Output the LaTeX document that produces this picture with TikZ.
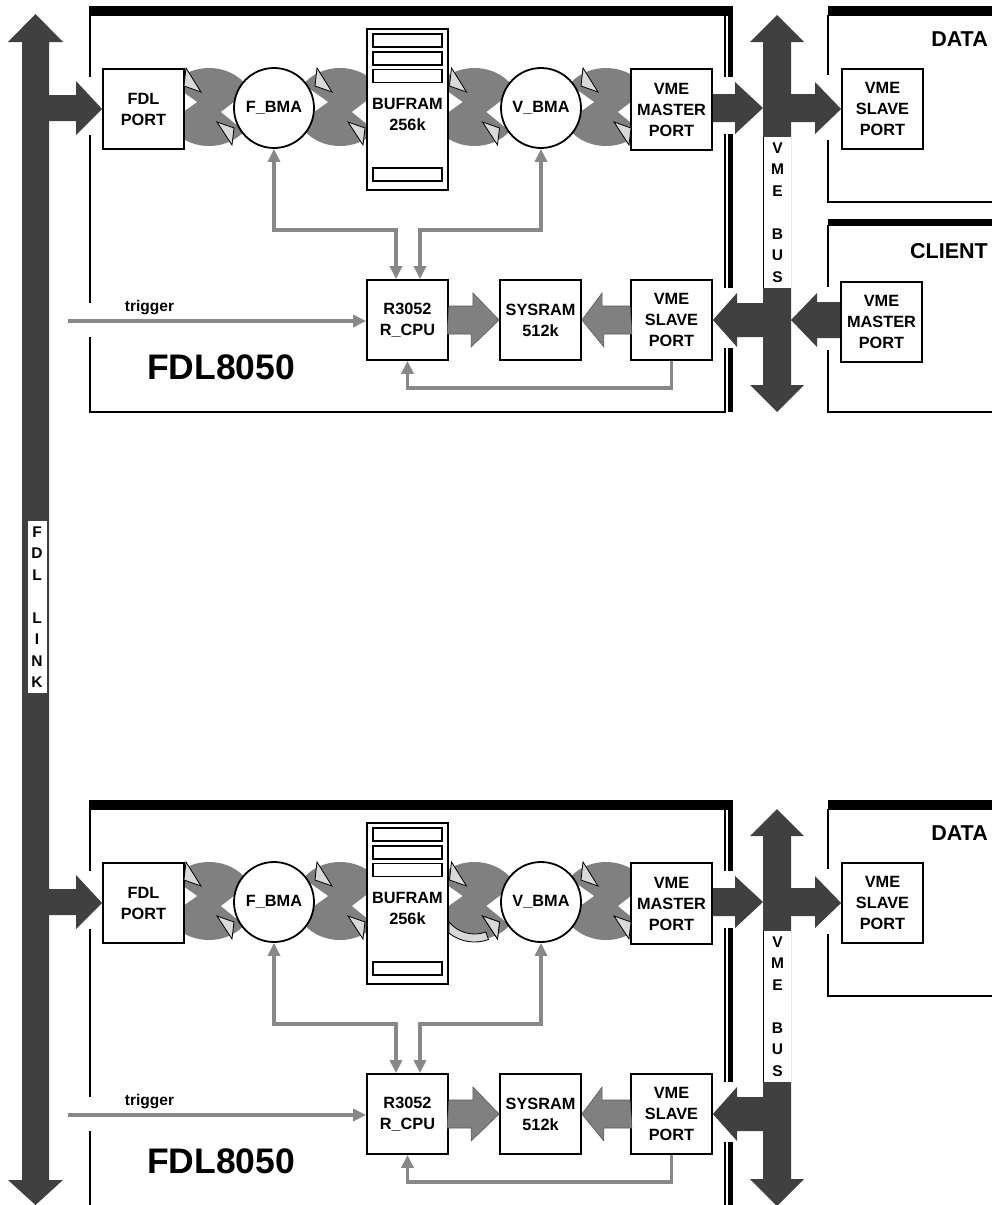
\documentclass[tikz,border=0pt]{standalone}
\usepackage{fontspec}
\setmainfont{Liberation Sans}
\usetikzlibrary{arrows.meta,calc}
\definecolor{dark}{HTML}{404040}
\definecolor{blobg}{HTML}{808080}
\definecolor{fatg}{HTML}{808080}
\definecolor{conng}{HTML}{888888}
\definecolor{trifill}{HTML}{D9D9D9}
\newcommand\mylbl{\fontsize{16.3}{21}\selectfont\bfseries}
\tikzset{
  frame/.style={line width=2pt},
  box/.style={draw, line width=1.8pt, fill=white, minimum width=81pt, minimum height=80pt, inner sep=0pt, align=center, font=\mylbl},
  circ/.style={draw, circle, line width=1.8pt, fill=white, minimum size=80pt, inner sep=0pt, font=\mylbl},
  conn/.style={draw=conng, line width=3.6pt, >={Triangle[length=13pt,width=12pt]}},
  fat/.style={fill=fatg, draw=black!65, line width=0.6pt},
  tri/.style={fill=trifill, draw=black, line width=0.8pt, line join=miter},
  band/.style={fill=trifill, draw=black, line width=0.8pt},
  vtext/.style={font=\fontsize{15.5}{21.5}\selectfont\bfseries, align=center, inner sep=0pt},
  title/.style={font=\fontsize{21.5}{24}\selectfont\bfseries, inner sep=0pt},
  bigtitle/.style={font=\fontsize{35.5}{40}\selectfont\bfseries, inner sep=0pt},
  trigtext/.style={font=\fontsize{15.5}{18}\selectfont\bfseries, inner sep=0pt}
}
\newcommand\myblob[1]{%
  \begin{scope}[shift={(#1,107)}]
    \fill[blobg] (0,0) ellipse [x radius=45, y radius=39];
    \fill[white] (-50,-32) -- (-12,-5) -- (-50,22) -- cycle;
    \fill[white] (50,-24) -- (12,5) -- (50,36) -- cycle;
  \end{scope}}
\newcommand\mytria[1]{%
  \begin{scope}[shift={(#1,107)}]
    \filldraw[tri] (-23,-39) -- (-25,-21) -- (-8,-15) -- cycle;
  \end{scope}}
\newcommand\mytrib[1]{%
  \begin{scope}[shift={(#1,107)}]
    \filldraw[tri] (23,38) -- (25,21) -- (8,15) -- cycle;
  \end{scope}}
\newcommand\boarddraw{%
  % board frame
  \fill (89,6) rectangle (733,16);
  \fill (728,6) rectangle (733,412);
  \draw[frame] (90,15) -- (90,412) -- (725,412) -- (725,15);
  \fill[white] (84,77) rectangle (96,135);
  \fill[white] (84,303) rectangle (96,337);
  \fill[white] (720,77) rectangle (736,134);
  \fill[white] (720,288) rectangle (736,348);
  % DATA frame
  \fill (828,6) rectangle (1000,16);
  \draw[frame] (828,15) -- (828,202) -- (1000,202);
  \fill[white] (822,75) rectangle (834,140);
  % transfer blobs
  \myblob{209}\myblob{340}\myblob{474.5}\myblob{606}
  % components
  \node[box] (fport) at (143.5,109) {FDL\\PORT};
  \node[circ] (fbma) at (274,108) {F\_BMA};
  \node[box, minimum height=161pt] (bufram) at (407.5,109.5) {};
  \draw[line width=1.1pt] (373,34) rectangle (442,47);
  \draw[line width=1.1pt] (373,52) rectangle (442,65);
  \draw[line width=1.1pt] (373,69.5) rectangle (442,82.5);
  \draw[line width=1.1pt] (373,168) rectangle (442,181);
  \node[align=center, font=\mylbl, inner sep=0pt] (buftext) at (407.5,114) {BUFRAM\\256k};
  \node[circ] (vbma) at (541,108) {V\_BMA};
  \node[box, minimum height=81pt] (vmaster) at (671.5,109.5) {VME\\MASTER\\PORT};
  \node[box] (cpu) at (407.5,320) {R3052\\R\_CPU};
  \node[box] (sysram) at (540.5,320) {SYSRAM\\512k};
  \node[box] (vslave) at (671.5,320) {VME\\SLAVE\\PORT};
  \node[box] (dslave) at (882.5,109) {VME\\SLAVE\\PORT};
  \node[title, anchor=east] (dtitle) at (988,39) {DATA};
  \mytria{209}\mytria{340}\mytria{474.5}\mytria{606}
  \mytrib{209}\mytrib{340}\mytrib{474.5}\mytrib{606}
  % FDL link branch
  \coordinate (bus) at (35.5,108);
  \fill[dark] (bus) ++(0,-13) -- (76,95) -- (76,81) -- (fport.west) -- (76,135) -- (76,121) -- (35.5,121) -- cycle;
  % internal connectors
  \coordinate (j1) at (396,230);
  \coordinate (j2) at (420,230);
  \coordinate (j3) at (407.5,388);
  \draw[conn,<->] (fbma.south) |- (j1) -- (j1 |- cpu.north);
  \draw[conn,<->] (vbma.south) |- (j2) -- (j2 |- cpu.north);
  \draw[conn,->] (vslave.south) |- (j3) -- (cpu.south);
  \coordinate (trigin) at (68,321);
  \draw[conn,->] (trigin) -- (trigin -| cpu.west);
  \node[trigtext, anchor=base] (trig) at (149.5,311) {trigger};
  \node[bigtitle] (fdlname) at (221,367.5) {FDL8050};
  \filldraw[fat] (cpu.east) ++(0,-14) -- ++(24,0) -- ++(0,-13) -- (sysram.west) -- ++(-28,27) -- ++(0,-13) -- ++(-24,0) -- cycle;
  \filldraw[fat] (vslave.west) ++(0,-14) -- ++(-28,0) -- ++(0,-13) -- (sysram.east) -- ++(22,27) -- ++(0,-13) -- ++(28,0) -- cycle;
  % VME bus
  \fill[dark] (763,42) -- (750,42) -- (777,15) -- (804,42) -- (791,42) -- (791,385) -- (804,385) -- (777,412) -- (750,385) -- (763,385) -- cycle;
  \fill[dark] (vmaster.east |- 0,94) -- (735,94) -- (735,82) -- (763,108) -- (735,134) -- (735,122) -- (vmaster.east |- 0,122) -- cycle;
  \fill[dark] (785,94) -- (815,94) -- (815,82) -- (dslave.west) -- (815,134) -- (815,122) -- (785,122) -- cycle;
  \fill[dark] (785,303) -- (737,303) -- (737,293) -- (vslave.east) -- (737,347) -- (737,337) -- (785,337) -- cycle;
  \fill[white] (763,137) rectangle (791,288);
  \draw[line width=1pt] (763,137) -- (763,288);
  \node[vtext] (vmebus) at (777.5,212.5) {V\\M\\E\\[21.5pt]B\\U\\S};
}
\begin{document}
\begin{tikzpicture}[x=1pt,y=-1pt]
\useasboundingbox (0,0) rectangle (992,1205);
\clip (0,0) rectangle (992,1205);
\fill[white] (0,0) rectangle (992,1205);
% FDL LINK bus
\fill[dark] (22,42) -- (8,42) -- (35.5,14) -- (63,42) -- (49,42) -- (49,1180) -- (63,1180) -- (35.5,1205) -- (8,1180) -- (22,1180) -- cycle;
\fill[white] (28,521) rectangle (47,693);
\node[vtext] (fdllink) at (37,607) {F\\D\\L\\[21.5pt]L\\I\\N\\K};
% top board
\begin{scope}[name prefix=t-]
  \boarddraw
  % CLIENT
  \fill (828,219) rectangle (1000,226);
  \draw[frame] (828,225) -- (828,412) -- (1000,412);
  \fill[white] (822,287) rectangle (834,350);
  \node[box] (cmaster) at (881.5,322) {VME\\MASTER\\PORT};
  \node[title, anchor=east] (ctitle) at (988,251) {CLIENT};
  \fill[dark] (cmaster.west |- 0,302) -- (817,302) -- (817,293) -- (791,320) -- (817,347) -- (817,338) -- (cmaster.west |- 0,338) -- cycle;
\end{scope}
% bottom board
\begin{scope}[yshift=-794pt, name prefix=b-]
  \boarddraw
  \filldraw[band] ([shift={(128.5:41)}]474.5,107) arc[start angle=128.5, end angle=70, radius=41]
     -- ([shift={(70:33)}]474.5,107) arc[start angle=70, end angle=140.6, radius=33] -- cycle;
  \mytrib{474.5}
\end{scope}
\end{tikzpicture}
\end{document}
